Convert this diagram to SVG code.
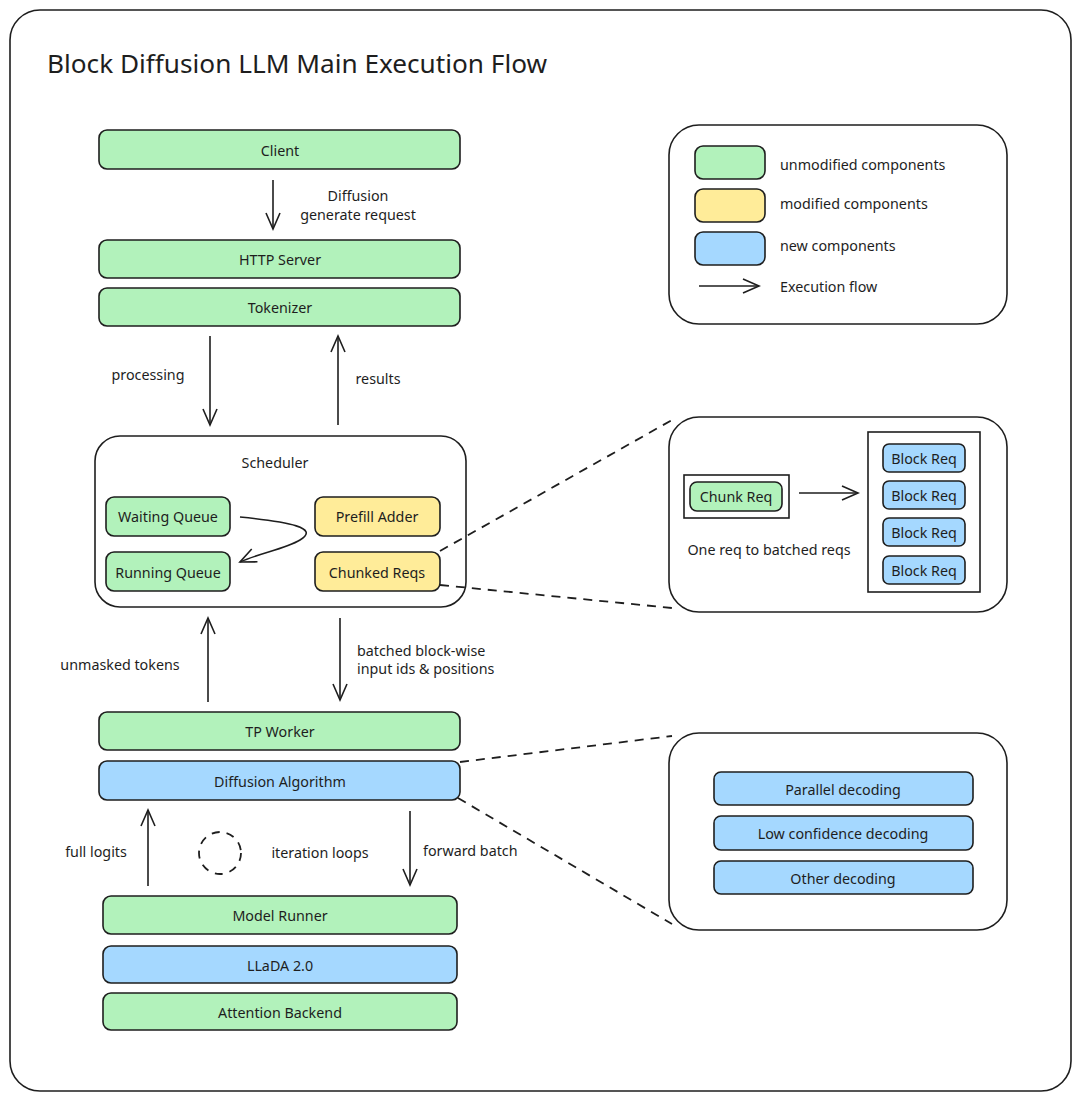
<svg xmlns="http://www.w3.org/2000/svg" width="1080" height="1100" viewBox="0 0 1080 1100">
<defs>
<style>
text{font-family:"Noto Sans","Open Sans",sans-serif;fill:#1e1e1e;font-size:14.3px}
.c{text-anchor:middle;dominant-baseline:central}
.l{dominant-baseline:central}
.box{stroke:#1e1e1e;stroke-width:1.6}
.g{fill:#b2f2bb}.y{fill:#ffec99}.b{fill:#a5d8ff}
.frame{fill:#fff;stroke:#1e1e1e;stroke-width:1.6}
.con{fill:none;stroke:#1e1e1e;stroke-width:1.6}
.dash{fill:none;stroke:#1e1e1e;stroke-width:1.8;stroke-dasharray:9 7}
</style>
<marker id="ah" viewBox="0 0 20 20" refX="18" refY="10" markerWidth="20" markerHeight="20" markerUnits="userSpaceOnUse" orient="auto">
<path d="M2,3 L18,10 L2,17" fill="none" stroke="#1e1e1e" stroke-width="1.6"/>
</marker>
</defs>
<rect width="1080" height="1100" fill="#fff"/>
<rect x="10" y="10" width="1061" height="1081" rx="30" class="frame"/>
<text x="47" y="63" style="font-size:26.2px" class="l">Block Diffusion LLM Main Execution Flow</text>

<g id="client"><rect x="99" y="130" width="361" height="39" rx="8" class="box g"/><text x="280" y="150" class="c">Client</text></g>
<g id="http"><rect x="99" y="240" width="361" height="38" rx="8" class="box g"/><text x="280" y="259" class="c">HTTP Server</text></g>
<g id="tokenizer"><rect x="99" y="288" width="361" height="38" rx="8" class="box g"/><text x="280" y="307" class="c">Tokenizer</text></g>

<g id="scheduler">
<rect x="95" y="436" width="371" height="171" rx="25" class="frame"/>
<text x="275" y="462" class="c">Scheduler</text>
</g>
<g id="waiting"><rect x="106" y="497" width="124" height="39" rx="8" class="box g"/><text x="168" y="516" class="c">Waiting Queue</text></g>
<g id="running"><rect x="106" y="552" width="124" height="39" rx="8" class="box g"/><text x="168" y="572" class="c">Running Queue</text></g>
<g id="prefill"><rect x="315" y="497" width="125" height="39" rx="8" class="box y"/><text x="377" y="516" class="c">Prefill Adder</text></g>
<g id="chunked"><rect x="315" y="552" width="125" height="39" rx="8" class="box y"/><text x="377" y="572" class="c">Chunked Reqs</text></g>

<g id="tpworker"><rect x="99" y="712" width="361" height="38" rx="8" class="box g"/><text x="280" y="731" class="c">TP Worker</text></g>
<g id="diffalgo"><rect x="99" y="761" width="361" height="39" rx="8" class="box b"/><text x="280" y="781" class="c">Diffusion Algorithm</text></g>
<g id="modelrunner"><rect x="103" y="896" width="354" height="38" rx="8" class="box g"/><text x="280" y="915" class="c">Model Runner</text></g>
<g id="llada"><rect x="103" y="946" width="354" height="37" rx="8" class="box b"/><text x="280" y="965" class="c">LLaDA 2.0</text></g>
<g id="attention"><rect x="103" y="993" width="354" height="37" rx="8" class="box g"/><text x="280" y="1012" class="c">Attention Backend</text></g>

<g id="loop"><circle cx="220" cy="853" r="21" class="dash" style="stroke-dasharray:8 7"/><text x="320" y="852" class="c">iteration loops</text></g>

<g id="legend">
<rect x="669" y="125" width="338" height="199" rx="30" class="frame"/>
<rect x="695" y="146" width="70" height="33" rx="8" class="box g"/><text x="780" y="164" class="l">unmodified components</text>
<rect x="695" y="189" width="70" height="33" rx="8" class="box y"/><text x="780" y="203" class="l">modified components</text>
<rect x="695" y="232" width="70" height="33" rx="8" class="box b"/><text x="780" y="245" class="l">new components</text>
<line x1="699" y1="286" x2="759" y2="286" class="con" marker-end="url(#ah)"/><text x="780" y="286" class="l">Execution flow</text>
</g>

<g id="chunkdetail">
<rect x="669" y="417" width="338" height="195" rx="30" class="frame"/>
<rect x="684" y="475" width="105" height="43" fill="#fff" class="box"/>
<rect x="690" y="482" width="92" height="29" rx="7" class="box g"/><text x="736" y="496" class="c">Chunk Req</text>
<line x1="799" y1="493" x2="858" y2="493" class="con" marker-end="url(#ah)"/>
<text x="769" y="549" class="c">One req to batched reqs</text>
<rect x="868" y="432" width="112" height="160" fill="#fff" class="box"/>
<rect x="883" y="444" width="82" height="28" rx="6" class="box b"/><text x="924" y="458" class="c">Block Req</text>
<rect x="883" y="481" width="82" height="28" rx="6" class="box b"/><text x="924" y="495" class="c">Block Req</text>
<rect x="883" y="518" width="82" height="28" rx="6" class="box b"/><text x="924" y="532" class="c">Block Req</text>
<rect x="883" y="556" width="82" height="28" rx="6" class="box b"/><text x="924" y="570" class="c">Block Req</text>
</g>

<g id="decodedetail">
<rect x="669" y="733" width="338" height="197" rx="30" class="frame"/>
<rect x="714" y="772" width="259" height="33" rx="7" class="box b"/><text x="843" y="789" class="c">Parallel decoding</text>
<rect x="714" y="816" width="259" height="34" rx="7" class="box b"/><text x="843" y="833" class="c">Low confidence decoding</text>
<rect x="714" y="861" width="259" height="33" rx="7" class="box b"/><text x="843" y="878" class="c">Other decoding</text>
</g>

<g id="connectors">
<line x1="273" y1="180" x2="273" y2="229" class="con" marker-end="url(#ah)"/>
<text x="358" y="195" class="c">Diffusion</text>
<text x="358" y="214" class="c">generate request</text>
<line x1="210" y1="336" x2="210" y2="425" class="con" marker-end="url(#ah)"/>
<text x="148" y="374" class="c">processing</text>
<line x1="338" y1="425" x2="338" y2="336" class="con" marker-end="url(#ah)"/>
<text x="378" y="378" class="c">results</text>
<path d="M240,517 C290,522 320,528 300,540 C285,549 260,553 240,562" class="con" marker-end="url(#ah)"/>
<line x1="208" y1="702" x2="208" y2="618" class="con" marker-end="url(#ah)"/>
<text x="120" y="664" class="c">unmasked tokens</text>
<line x1="340" y1="618" x2="340" y2="700" class="con" marker-end="url(#ah)"/>
<text x="357" y="650" class="l">batched block-wise</text>
<text x="357" y="668" class="l">input ids &amp; positions</text>
<line x1="148" y1="886" x2="148" y2="810" class="con" marker-end="url(#ah)"/>
<text x="96" y="851" class="c">full logits</text>
<line x1="410" y1="811" x2="410" y2="885" class="con" marker-end="url(#ah)"/>
<text x="423" y="850" class="l">forward batch</text>
<line x1="440" y1="551" x2="672" y2="420" class="dash"/>
<line x1="440" y1="585" x2="672" y2="608" class="dash"/>
<line x1="460" y1="762" x2="672" y2="736" class="dash"/>
<line x1="458" y1="798" x2="672" y2="924" class="dash"/>
</g>
</svg>
